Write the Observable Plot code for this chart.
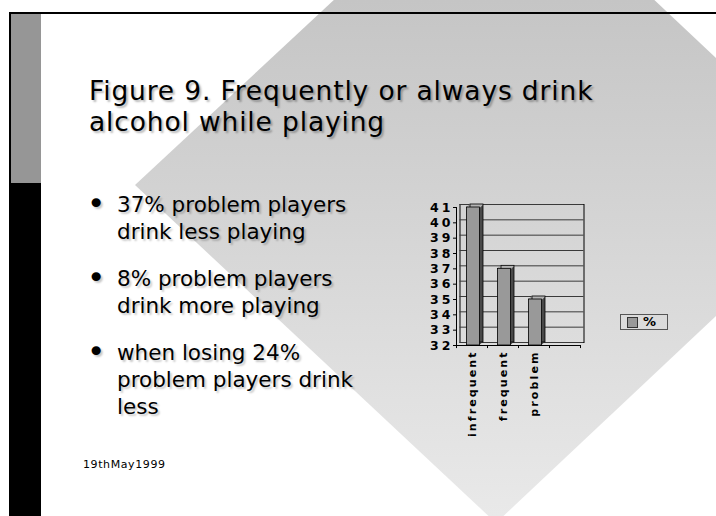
<!DOCTYPE html>
<html><head><meta charset="utf-8">
<script src="https://cdn.jsdelivr.net/npm/d3@7"></script>
<script src="https://cdn.jsdelivr.net/npm/@observablehq/plot@0.6"></script>
<style>
html,body{margin:0;padding:0;background:#fff;}
#slide{position:relative;width:716px;height:516px;overflow:hidden;background:#fff;font-family:"DejaVu Sans",Verdana,sans-serif;color:#000;}
.diamond{position:absolute;left:0;top:0;width:716px;height:516px;
  background:linear-gradient(to bottom,#c5c5c5 0px,#e9e9e9 516px);
  clip-path:polygon(135px 185px,495px -150px,853px 187px,496px 523px);}
.topline{position:absolute;left:9px;top:12px;width:707px;height:2px;background:#000;}
.leftline{position:absolute;left:9px;top:12px;width:2px;height:504px;background:#000;}
.greybar{position:absolute;left:11px;top:14px;width:30px;height:169px;background:#969696;}
.blackbar{position:absolute;left:9px;top:183px;width:32px;height:333px;background:#000;}
.title{position:absolute;left:89px;top:75px;font-size:26.5px;letter-spacing:0.85px;white-space:nowrap;
  text-shadow:2px 2px 2px rgba(0,0,0,0.28);}
.title div{height:31px;line-height:31px;}
.bullets{position:absolute;left:117px;top:191px;font-size:21.5px;line-height:27px;white-space:nowrap;
  text-shadow:2px 2px 2px rgba(0,0,0,0.22);}
.bullets p{margin:0 0 20px 0;position:relative;}
.bullets p span.b{position:absolute;left:-30px;top:-1px;font-size:31px;}
.footer{position:absolute;left:83px;top:458px;font-size:11px;letter-spacing:0.6px;white-space:nowrap;}
#chart{position:absolute;left:416px;top:190px;}
#chart svg g[aria-label="y-axis tick label"] text{letter-spacing:3px;}
#chart svg g[aria-label="x-axis tick label"] text{letter-spacing:2.1px;}
.legend{position:absolute;left:620px;top:314px;width:46px;height:14px;border:1px solid #555;}
.legend .sw{position:absolute;left:6px;top:2px;width:9px;height:9px;background:#999;border:1px solid #333;}
.legend .lab{position:absolute;left:22px;top:-1px;font-size:13px;font-weight:bold;}
</style></head><body>
<div id="slide">
  <div class="diamond"></div>
  <div class="topline"></div>
  <div class="leftline"></div>
  <div class="greybar"></div>
  <div class="blackbar"></div>
  <div class="title"><div>Figure 9. Frequently or always drink</div><div>alcohol while playing</div></div>
  <div class="bullets">
    <p><span class="b">•</span>37% problem players<br>drink less playing</p>
    <p><span class="b">•</span>8% problem players<br>drink more playing</p>
    <p><span class="b">•</span>when losing 24%<br>problem players drink<br>less</p>
  </div>
  <div class="footer">19thMay1999</div>
  <div id="chart"></div>
  <div class="legend"><div class="sw"></div><div class="lab" id="legLab"></div></div>
</div>
<script>
const categories = ["infrequent", "frequent", "problem", ""];
const barCategories = ["infrequent", "frequent", "problem"];
const values = [41, 37, 35];
const yTicks = [32, 33, 34, 35, 36, 37, 38, 39, 40, 41];
const seriesName = "%";

const data = barCategories.map((c, i) => ({cat: c, v: values[i]}));
document.getElementById("legLab").textContent = seriesName;

const DX = 3.5, DY = -3, BX = 1.5;
const layers = [1, 0.85, 0.7, 0.55, 0.4, 0.25, 0.1];
const half = 15.5;

const marks = [
  Plot.frame({dx: DX, dy: DY, stroke: "#000", strokeWidth: 1}),
  Plot.gridY(yTicks, {dx: DX, dy: DY, stroke: "#3a3a3a", strokeOpacity: 1, strokeWidth: 1}),
  Plot.ruleY([32], {stroke: "#000", strokeWidth: 1}),
  Plot.ruleX(["infrequent"], {x: d => d, y1: 32, y2: 41, dx: -half, stroke: "#000", strokeWidth: 1}),
  Plot.ruleX(categories, {x: d => d, y1: 32, y2: 31.8, dx: -half, stroke: "#000"}),
  Plot.ruleX([""], {x: d => d, y1: 32, y2: 31.8, dx: half, stroke: "#000"}),
  ...layers.map(k => Plot.barY(data, {x: "cat", y1: 32, y2: "v", dx: BX + k * DX, dy: k * DY, fill: "#4a4a4a"})),
  ...layers.map(k => Plot.tickY(data, {x: "cat", y: "v", dx: BX + k * DX, dy: k * DY, stroke: "#b4b4b4", strokeWidth: 1.3})),
  Plot.barY(data, {x: "cat", y1: 32, y2: "v", dx: BX + DX, dy: DY, fill: "none", stroke: "#000", strokeWidth: 0.8}),
  Plot.barY(data, {x: "cat", y1: 32, y2: "v", dx: BX, fill: "#999999", stroke: "#000", strokeWidth: 0.8}),
  Plot.axisY(yTicks, {tickSize: 3, tickPadding: 0, fontSize: 12.5, fontWeight: "bold", tickFormat: d => String(d)}),
  Plot.axisX({tickSize: 0, tickRotate: -90, tickPadding: 5, fontSize: 11, fontWeight: "bold"})
];

const chart = Plot.plot({
  width: 174,
  height: 255,
  marginLeft: 40,
  marginRight: 10,
  marginTop: 17,
  marginBottom: 100,
  style: {background: "transparent", fontFamily: "DejaVu Sans", color: "#000", overflow: "visible"},
  x: {domain: categories, paddingInner: 0.58, paddingOuter: 0.29, label: null},
  y: {domain: [32, 41], label: null},
  marks
});
document.getElementById("chart").appendChild(chart);
</script>
</body></html>
